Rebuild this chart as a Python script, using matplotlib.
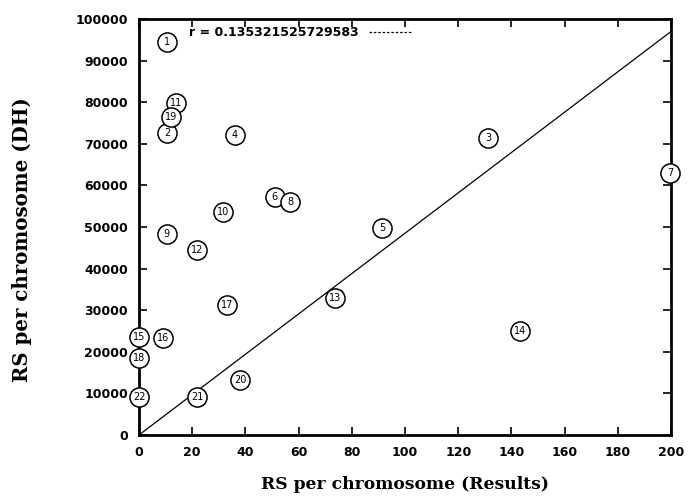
import matplotlib
matplotlib.use("Agg")
import matplotlib.pyplot as plt
from matplotlib.lines import Line2D

# chromosome labels and values
labels = ["1", "2", "3", "4", "5", "6", "7", "8", "9", "10", "11",
          "12", "13", "14", "15", "16", "17", "18", "19", "20", "21", "22"]
rs_results = [10.5, 10.5, 131.2, 36.1, 91.4, 51.1, 199.6, 56.8, 10.5, 31.6, 13.8,
              21.8, 73.7, 143.2, 0.0, 9.0, 33.0, 0.0, 12.0, 38.0, 21.8, 0.0]
rs_dh = [94500, 72600, 71400, 72100, 49800, 57200, 63000, 56000, 48300, 53600, 79800,
         44500, 32900, 25000, 23600, 23300, 31250, 18500, 76500, 13200, 9100, 9100]

fit_x = [0, 200]
fit_slope = 485
r_text = "r = 0.135321525729583"

xticks = [0, 20, 40, 60, 80, 100, 120, 140, 160, 180, 200]
yticks = [0, 10000, 20000, 30000, 40000, 50000, 60000, 70000, 80000, 90000, 100000]

fig = plt.figure(figsize=(6.91, 5.0), dpi=100)
ax = fig.add_axes([139/691, 1-435/500, (671-139)/691, (435-19)/500])

ax.plot(fit_x, [fit_slope*v for v in fit_x], color="black", lw=0.9, zorder=2)
ax.scatter(rs_results, rs_dh, s=190, facecolors="white", edgecolors="black",
           linewidths=1.1, zorder=3, clip_on=False)
for lab, xv, yv in zip(labels, rs_results, rs_dh):
    ax.text(xv, yv, lab, ha="center", va="center", fontsize=7, zorder=4,
            family="DejaVu Sans")

ax.set_xlim(0, 200)
ax.set_ylim(0, 100000)
ax.set_xticks(xticks)
ax.set_yticks(yticks)
ax.set_xticklabels([str(v) for v in xticks], fontsize=9, fontweight="bold")
ax.set_yticklabels([str(v) for v in yticks], fontsize=9, fontweight="bold")
ax.tick_params(direction="in", length=6, width=1.2, top=True, right=True, pad=8)
for s in ax.spines.values():
    s.set_linewidth(2)

ax.set_xlabel("RS per chromosome (Results)", fontsize=12.3, fontweight="bold",
              family="DejaVu Serif", labelpad=12)
ax.set_ylabel("RS per chromosome (DH)", fontsize=14.2, fontweight="bold",
              family="DejaVu Serif")
ax.yaxis.set_label_coords(-0.202, 0.47)

handle = Line2D([0], [0], color="black", lw=0.9, linestyle=(0, (2, 1.5)))
leg = ax.legend([handle], [r_text], loc="upper left", bbox_to_anchor=(0.08, 1.0),
                frameon=False, markerfirst=False, handlelength=3.5,
                prop={"size": 9, "weight": "bold"}, borderaxespad=0.2)

fig.savefig("out.png", dpi=100)
